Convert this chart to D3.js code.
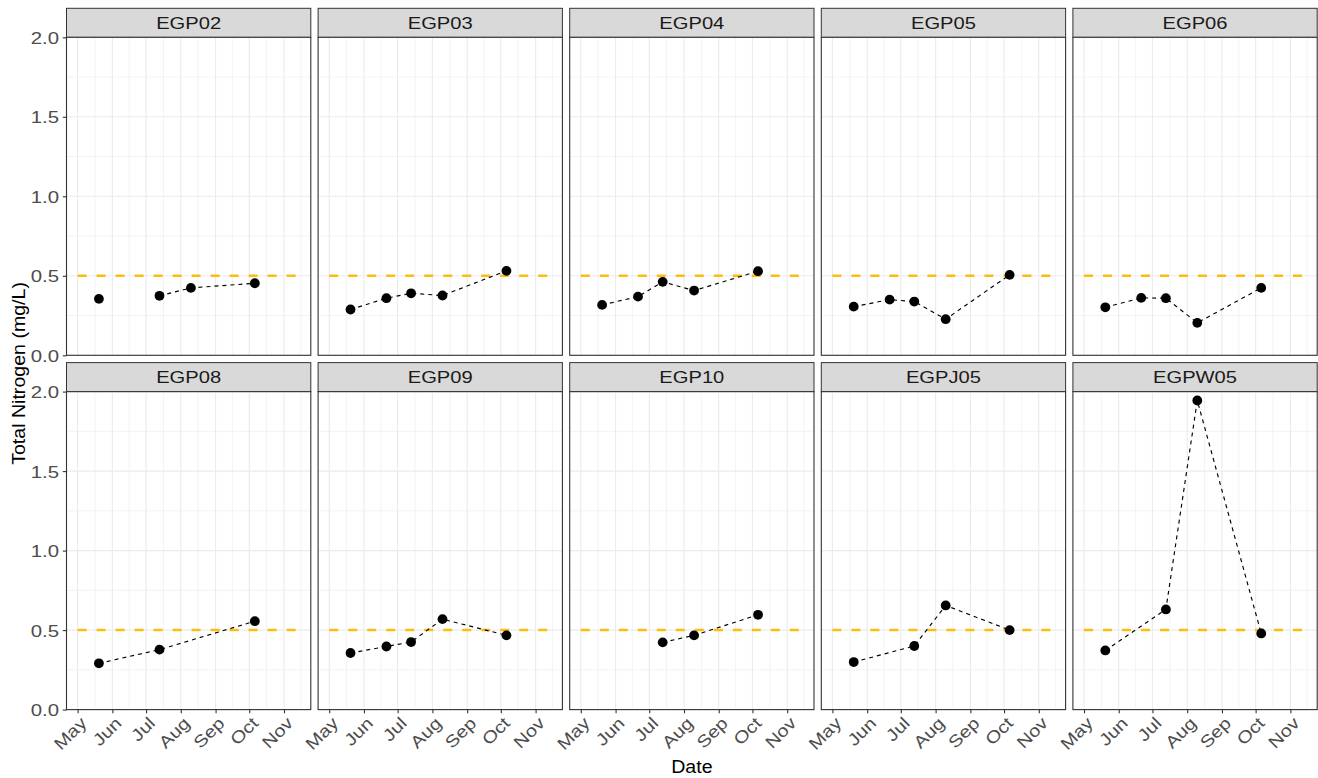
<!DOCTYPE html>
<html>
<head>
<meta charset="utf-8">
<script src="https://cdn.jsdelivr.net/npm/d3@7"></script>
<style>
  body { margin: 0; background: #fff; }
  text { font-family: "Liberation Sans", Arial, sans-serif; }
</style>
</head>
<body>
<div id="chart"></div>
<script>
// NA = sample taken but no value (breaks the line), null = no sample (skipped)
const NA = NaN

const stations = ['EGP02', 'EGP03', 'EGP04', 'EGP05', 'EGP06', 'EGP08', 'EGP09', 'EGP10', 'EGPJ05', 'EGPW05']
const sampleDates = ['2021-05-20', '2021-06-21', '2021-07-13', '2021-08-10', '2021-10-06']

const egp02 = [0.355, NA, 0.374, 0.424, 0.453]
const egp03 = [0.288, 0.359, 0.390, 0.376, 0.531]
const egp04 = [0.317, 0.369, 0.462, 0.407, 0.529]
const egp05 = [0.306, 0.350, 0.338, 0.227, 0.506]
const egp06 = [0.302, 0.361, 0.359, 0.204, 0.424]
const egp08 = [0.291, null, 0.377, null, 0.556]
const egp09 = [0.356, 0.397, 0.425, 0.569, 0.467]
const egp10 = [null, null, 0.423, 0.467, 0.596]
const egpj05 = [0.299, null, 0.400, 0.655, 0.500]
const egpw05 = [0.372, null, 0.630, 1.944, 0.479]

const stationValues = {
  EGP02: egp02, EGP03: egp03, EGP04: egp04, EGP05: egp05, EGP06: egp06,
  EGP08: egp08, EGP09: egp09, EGP10: egp10, EGPJ05: egpj05, EGPW05: egpw05
}

// guideline drawn across each panel
const thresholdValue = 0.5
const thresholdSpan = ['2021-05-01', '2021-11-15']

const yTicks = [0, 0.5, 1, 1.5, 2]
const yMinorTicks = [0.25, 0.75, 1.25, 1.75]

// layout
const W = 1318, H = 778
const ncol = 5
const marginLeft = 66.5, marginTop = 8.3
const panelW = 244.3, panelH = 318, stripH = 29, gap = 7.3

const parse = d3.timeParse('%Y-%m-%d')
const t0 = parse(thresholdSpan[0])
const t1 = parse(thresholdSpan[1])
const pad = (t1 - t0) * 0.05

const x = d3.scaleTime()
  .domain([new Date(+t0 - pad), new Date(+t1 + pad)])
  .range([0, panelW])
const y = d3.scaleLinear().domain([0, 2]).range([panelH, 0])

const majors = d3.timeMonth.range(x.domain()[0], x.domain()[1])
const ext = [d3.timeMonth.offset(majors[0], -1), ...majors, d3.timeMonth.offset(majors[majors.length - 1], 1)]
const xMinor = d3.pairs(ext)
  .map(([a, b]) => new Date((+a + +b) / 2))
  .filter(d => d >= x.domain()[0] && d <= x.domain()[1])

const svg = d3.select('#chart').append('svg')
  .attr('width', W)
  .attr('height', H)

svg.append('rect').attr('width', W).attr('height', H).attr('fill', '#fff')

const line = d3.line()
  .defined(d => !isNaN(d.v))
  .x(d => x(d.date))
  .y(d => y(d.v))

stations.forEach((name, i) => {
  const col = i % ncol
  const row = Math.floor(i / ncol)
  const px = marginLeft + col * (panelW + gap)
  const py = marginTop + row * (stripH + panelH + gap) + stripH

  // strip
  const strip = svg.append('g').attr('transform', `translate(${px},${py - stripH})`)
  strip.append('rect')
    .attr('width', panelW)
    .attr('height', stripH)
    .attr('fill', '#d9d9d9')
    .attr('stroke', '#333')
    .attr('stroke-width', 1)
  strip.append('text')
    .attr('transform', `translate(${panelW / 2},${stripH / 2}) scale(1.2,1)`)
    .attr('dy', '0.36em')
    .attr('text-anchor', 'middle')
    .attr('font-size', 16.8)
    .attr('fill', '#1a1a1a')
    .text(name)

  const g = svg.append('g').attr('transform', `translate(${px},${py})`)

  // grid
  g.append('g').selectAll('line')
    .data(yMinorTicks)
    .join('line')
    .attr('x1', 0).attr('x2', panelW)
    .attr('y1', d => y(d)).attr('y2', d => y(d))
    .attr('stroke', '#ebebeb').attr('stroke-width', 0.6)
  g.append('g').selectAll('line')
    .data(xMinor)
    .join('line')
    .attr('x1', d => x(d)).attr('x2', d => x(d))
    .attr('y1', 0).attr('y2', panelH)
    .attr('stroke', '#ebebeb').attr('stroke-width', 0.6)
  g.append('g').selectAll('line')
    .data(yTicks)
    .join('line')
    .attr('x1', 0).attr('x2', panelW)
    .attr('y1', d => y(d)).attr('y2', d => y(d))
    .attr('stroke', '#ebebeb').attr('stroke-width', 1.1)
  g.append('g').selectAll('line')
    .data(majors)
    .join('line')
    .attr('x1', d => x(d)).attr('x2', d => x(d))
    .attr('y1', 0).attr('y2', panelH)
    .attr('stroke', '#ebebeb').attr('stroke-width', 1.1)

  // threshold
  g.append('line')
    .attr('x1', x(t0)).attr('x2', x(t1))
    .attr('y1', y(thresholdValue)).attr('y2', y(thresholdValue))
    .attr('stroke', '#ffbc0f')
    .attr('stroke-width', 2.5)
    .attr('stroke-dasharray', '9,10')

  const pts = stationValues[name]
    .map((v, j) => ({ date: parse(sampleDates[j]), v }))
    .filter(d => d.v !== null)

  g.append('path')
    .datum(pts)
    .attr('d', line)
    .attr('fill', 'none')
    .attr('stroke', '#000')
    .attr('stroke-width', 1.15)
    .attr('stroke-dasharray', '4,4')

  g.append('g').selectAll('circle')
    .data(pts.filter(d => !isNaN(d.v)))
    .join('circle')
    .attr('cx', d => x(d.date))
    .attr('cy', d => y(d.v))
    .attr('r', 4.9)
    .attr('fill', '#000')

  g.append('rect')
    .attr('width', panelW)
    .attr('height', panelH)
    .attr('fill', 'none')
    .attr('stroke', '#333')
    .attr('stroke-width', 1.1)

  // axes
  if (col === 0) {
    const ay = g.append('g')
      .call(d3.axisLeft(y).tickValues(yTicks).tickFormat(d3.format('.1f')).tickSize(3.7).tickPadding(0))
    ay.select('.domain').remove()
    ay.selectAll('.tick line').attr('stroke', '#333').attr('stroke-width', 1.1)
    ay.selectAll('.tick text')
      .attr('x', null)
      .attr('transform', 'translate(-7.5,0) scale(1.2,1)')
      .attr('dy', '0.36em')
      .attr('font-size', 17)
      .attr('font-family', null)
      .attr('fill', '#4d4d4d')
  }
  if (row === 1) {
    const ax = g.append('g')
      .attr('transform', `translate(0,${panelH})`)
      .call(d3.axisBottom(x).tickValues(majors).tickFormat(d3.timeFormat('%b')).tickSize(3.7).tickPadding(0))
    ax.select('.domain').remove()
    ax.selectAll('.tick line').attr('stroke', '#333').attr('stroke-width', 1.1)
    ax.selectAll('.tick text')
      .attr('y', null)
      .attr('dy', '0.72em')
      .attr('text-anchor', 'end')
      .attr('transform', 'translate(1,6) rotate(-45) scale(1.18,1)')
      .attr('font-size', 17)
      .attr('font-family', null)
      .attr('fill', '#4d4d4d')
  }
})

// axis titles
const plotRight = marginLeft + ncol * panelW + (ncol - 1) * gap
svg.append('text')
  .attr('transform', `translate(${(marginLeft + plotRight) / 2},773) scale(1.12,1)`)
  .attr('text-anchor', 'middle')
  .attr('font-size', 17.5)
  .attr('fill', '#000')
  .text('Date')

const panelsTop = marginTop + stripH
const panelsBottom = marginTop + 2 * (stripH + panelH) + gap
svg.append('text')
  .attr('transform', `translate(25,${(panelsTop + panelsBottom) / 2}) rotate(-90) scale(1.12,1)`)
  .attr('text-anchor', 'middle')
  .attr('font-size', 17.5)
  .attr('fill', '#000')
  .text('Total Nitrogen (mg/L)')
</script>
</body>
</html>
